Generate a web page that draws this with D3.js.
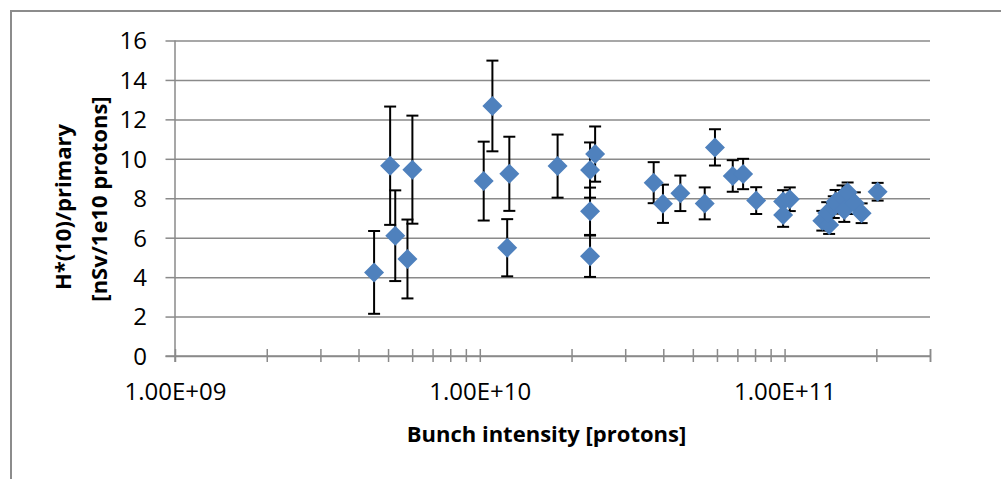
<!DOCTYPE html>
<html>
<head>
<meta charset="utf-8">
<script src="https://cdn.jsdelivr.net/npm/d3@7"></script>
<style>
  html, body { margin: 0; padding: 0; background: #fff; }
  svg { display: block; }
  text { font-family: "Open Sans", "Liberation Sans", sans-serif; fill: #000; }
</style>
</head>
<body>
<svg id="chart" width="1001" height="479"></svg>
<script>
// ---- data ----
const intensity = [
  4.50e9, 5.08e9, 5.28e9, 5.79e9, 6.01e9,
  1.03e10, 1.10e10, 1.25e10, 1.23e10, 1.80e10,
  2.30e10, 2.39e10, 2.30e10, 2.30e10,
  3.72e10, 3.99e10, 4.55e10, 5.47e10, 5.91e10, 6.76e10, 7.31e10, 8.07e10,
  9.89e10, 1.04e11, 9.89e10,
  1.33e11, 1.40e11, 1.38e11, 1.45e11, 1.47e11, 1.55e11, 1.61e11, 1.57e11, 1.70e11, 1.79e11,
  2.02e11
];
const dosePerPrimary = [
  4.24, 9.65, 6.10, 4.92, 9.45,
  8.87, 12.68, 9.24, 5.49, 9.63,
  9.43, 10.24, 7.34, 5.06,
  8.79, 7.72, 8.25, 7.74, 10.58, 9.13, 9.23, 7.88,
  7.83, 7.95, 7.15,
  6.86, 6.64, 7.25, 7.55, 7.82, 8.05, 8.30, 7.40, 7.75, 7.24,
  8.33
];
const doseError = [
  2.10, 3.00, 2.30, 2.00, 2.74,
  2.00, 2.30, 1.88, 1.45, 1.60,
  1.40, 1.40, 1.20, 1.05,
  1.04, 0.97, 0.90, 0.81, 0.92, 0.80, 0.77, 0.68,
  0.58, 0.60, 0.60,
  0.50, 0.45, 0.55, 0.55, 0.60, 0.60, 0.50, 0.60, 0.55, 0.50,
  0.45
];
const xMajorTicks = [1e9, 1e10, 1e11];
const xTickLabels = ["1.00E+09", "1.00E+10", "1.00E+11"];
const yTicks = [0, 2, 4, 6, 8, 10, 12, 14, 16];
const xTitle = "Bunch intensity [protons]";
const yTitleLines = ["H*(10)/primary", "[nSv/1e10 protons]"];

// ---- layout ----
const W = 1001, H = 479;
const plot = { left: 175, right: 930, top: 40.5, bottom: 356 };
const gridColor = "#8a8a8a";
const markerColor = "#4f81bd";

const svg = d3.select("#chart");

// outer chart border (partially cropped in reference)
svg.append("rect")
  .attr("x", 11).attr("y", 11)
  .attr("width", W + 20).attr("height", H + 20)
  .attr("fill", "none").attr("stroke", "#8c8c8c").attr("stroke-width", 2);

const x = d3.scaleLog().domain([1e9, 3e11]).range([plot.left, plot.right]);
const y = d3.scaleLinear().domain([0, 16]).range([plot.bottom, plot.top]);

// horizontal gridlines + y axis ticks/labels
const yAxis = d3.axisLeft(y).tickValues(yTicks).tickFormat(d3.format("d"))
  .tickSizeInner(-(plot.right - plot.left)).tickSizeOuter(0).tickPadding(0);
const gy = svg.append("g").attr("transform", `translate(${plot.left},0)`).call(yAxis);
gy.select(".domain").remove();
gy.selectAll(".tick line").attr("stroke", gridColor).attr("stroke-width", 1.5);
gy.selectAll(".tick").append("line")
  .attr("x1", -9.5).attr("x2", 0).attr("stroke", gridColor).attr("stroke-width", 1.5);
gy.selectAll(".tick text")
  .attr("x", -28).attr("dy", "0.35em")
  .style("font-size", "24px").style("font-family", '"Open Sans", sans-serif')
  .attr("fill", "#000");

// y axis line (extends down to the cross tick)
svg.append("line")
  .attr("x1", plot.left).attr("x2", plot.left)
  .attr("y1", plot.top).attr("y2", plot.bottom + 6)
  .attr("stroke", gridColor).attr("stroke-width", 1.5);

// x axis: minor/major cross ticks
const allXTicks = [];
for (let dec = 1e9; dec <= 1e11; dec *= 10) {
  for (let m = 1; m <= 9; m++) {
    const v = m * dec;
    if (v <= 3e11) allXTicks.push(v);
  }
}
allXTicks.push(3e11);
const xAxisMinor = d3.axisBottom(x).tickValues(allXTicks).tickFormat("")
  .tickSizeInner(6).tickSizeOuter(0);
const gxm = svg.append("g").attr("transform", `translate(0,${plot.bottom})`).call(xAxisMinor);
gxm.select(".domain").attr("stroke", gridColor).attr("stroke-width", 1.5)
  .attr("d", `M${plot.left - 9.5},0H${plot.right}`);
gxm.selectAll(".tick line").attr("y1", -7).attr("y2", 6)
  .attr("stroke", gridColor).attr("stroke-width", 1.5);

// x axis labels
const xAxisMajor = d3.axisBottom(x).tickValues(xMajorTicks)
  .tickFormat((d, i) => xTickLabels[i]).tickSize(0).tickPadding(0);
const gxl = svg.append("g").attr("transform", `translate(0,${plot.bottom})`).call(xAxisMajor);
gxl.select(".domain").remove();
gxl.selectAll(".tick text")
  .attr("y", 44).attr("dy", 0)
  .style("font-size", "24px").style("font-family", '"Open Sans", sans-serif')
  .attr("fill", "#000");

// axis titles
svg.append("text")
  .attr("x", 546.5).attr("y", 442)
  .attr("text-anchor", "middle")
  .style("font-size", "22px").style("font-weight", "bold")
  .text(xTitle);

const yTitleBaselines = [71, 107];
const yTitleCenters = [207, 199];
yTitleLines.forEach((line, i) => {
  svg.append("text")
    .attr("transform", `translate(${yTitleBaselines[i]},${yTitleCenters[i]}) rotate(-90)`)
    .attr("text-anchor", "middle")
    .style("font-size", "22px").style("font-weight", "bold")
    .text(line);
});

// data
const data = intensity.map((v, i) => ({ x: v, y: dosePerPrimary[i], e: doseError[i] }));

const gErr = svg.append("g").attr("stroke", "#000").attr("stroke-width", 2);
data.forEach(d => {
  const cx = x(d.x), yt = y(d.y + d.e), yb = y(d.y - d.e);
  gErr.append("line").attr("x1", cx).attr("x2", cx).attr("y1", yt).attr("y2", yb);
  gErr.append("line").attr("x1", cx - 6).attr("x2", cx + 6).attr("y1", yt).attr("y2", yt);
  gErr.append("line").attr("x1", cx - 6).attr("x2", cx + 6).attr("y1", yb).attr("y2", yb);
});

const r = 10;
svg.append("g").selectAll("path").data(data).join("path")
  .attr("d", d => {
    const cx = x(d.x), cy = y(d.y);
    return `M${cx},${cy - r}L${cx + r},${cy}L${cx},${cy + r}L${cx - r},${cy}Z`;
  })
  .attr("fill", markerColor);
</script>
</body>
</html>
